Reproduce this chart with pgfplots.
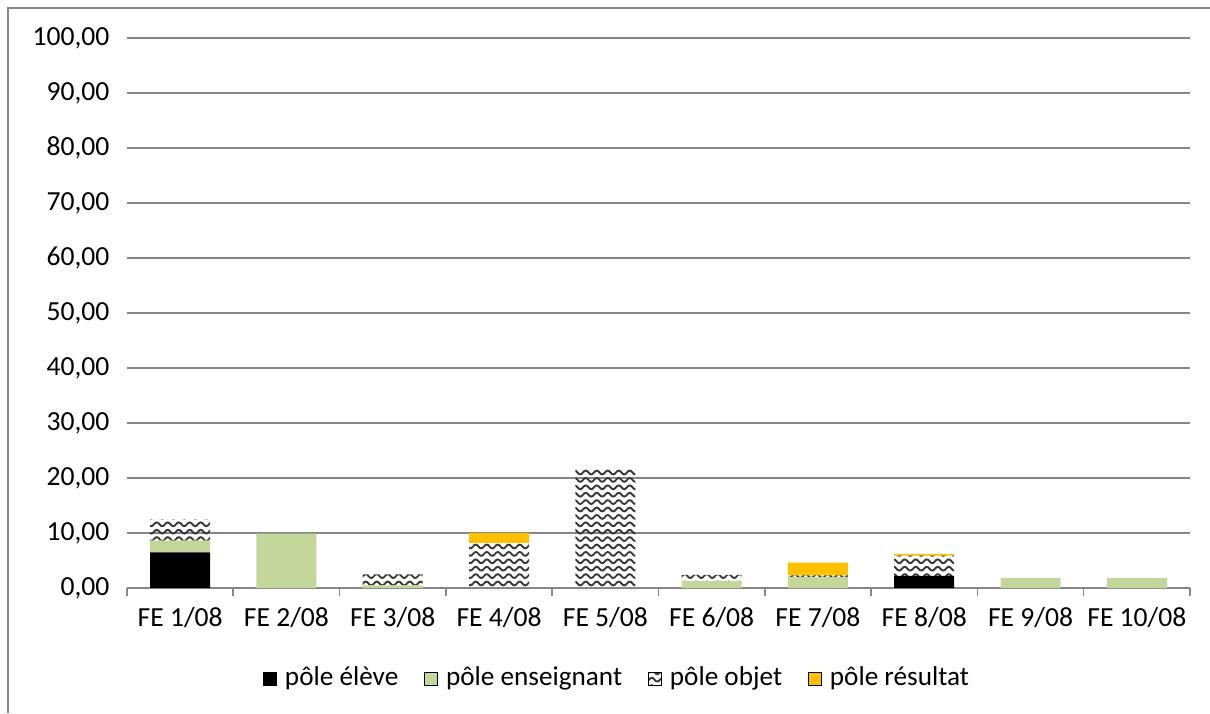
\documentclass[border=0pt]{standalone}
\usepackage{pgfplots}
\pgfplotsset{compat=1.18}
\usepackage{fontspec}
\setmainfont{Carlito}
\usetikzlibrary{patterns}
\definecolor{cgreen}{HTML}{C4D79B}
\definecolor{cyellow}{HTML}{FFC000}
\definecolor{cgrid}{HTML}{868686}
\pgfdeclarepatternformonly{waves}{\pgfqpoint{-0.5pt}{-0.5pt}}{\pgfqpoint{6pt}{4.2pt}}{\pgfqpoint{5.5pt}{3.7pt}}{
  \pgfsetlinewidth{0.95pt}
  \pgfpathmoveto{\pgfqpoint{0pt}{1.85pt}}
  \pgfpathcurveto{\pgfqpoint{0.92pt}{3.1pt}}{\pgfqpoint{1.83pt}{3.1pt}}{\pgfqpoint{2.75pt}{1.85pt}}
  \pgfpathcurveto{\pgfqpoint{3.67pt}{0.6pt}}{\pgfqpoint{4.58pt}{0.6pt}}{\pgfqpoint{5.5pt}{1.85pt}}
  \pgfusepath{stroke}
}
\begin{document}
\begin{tikzpicture}
\useasboundingbox (-63.5pt,-62.5pt) rectangle (541.5pt,294pt);
\begin{axis}[
  at={(0,0)}, anchor=south west,
  scale only axis, width=531.5pt, height=275pt,
  ybar stacked, bar width=30pt,
  xmin=-0.5, xmax=9.5, ymin=0, ymax=100,
  xtick={0,...,9},
  xticklabels={FE 1/08,FE 2/08,FE 3/08,FE 4/08,FE 5/08,FE 6/08,FE 7/08,FE 8/08,FE 9/08,FE 10/08},
  minor xtick={-0.5,0.5,...,9.5},
  major x tick style={draw=none},
  minor x tick style={draw=cgrid, line width=0.8pt},
  minor tick length=4pt,
  xtick pos=bottom, tick align=outside,
  ytick={0,10,...,100},
  ymajorgrids, grid style={cgrid, line width=0.6pt},
  major y tick style={draw=none},
  separate axis lines,
  axis x line*=bottom, axis y line*=left,
  x axis line style={cgrid, line width=0.8pt, -},
  y axis line style={draw=none},
  yticklabel style={/pgf/number format/.cd, fixed, fixed zerofill, precision=2, use comma, assume math mode=true},
  tick label style={font=\fontsize{13.8}{16}\selectfont, text=black},
  yticklabel shift=1pt,
  xticklabel shift=2pt,
  legend style={at={(0.462,-45pt)}, anchor=center, draw=none, legend columns=4,
    font=\fontsize{13.6}{16}\selectfont, inner sep=0pt,
    /tikz/every even column/.append style={column sep=11pt},
    /tikz/every odd column/.append style={column sep=2pt}},
  legend image code/.code={\draw[#1] (0pt,-3.5pt) rectangle (6.5pt,3pt);},
]
\addplot[fill=black, draw=none] coordinates {(0,6.5) (1,0) (2,0) (3,0) (4,0) (5,0) (6,0) (7,2.2) (8,0) (9,0)};
\addplot[fill=cgreen, draw=none] coordinates {(0,2.1) (1,9.9) (2,0.5) (3,0) (4,0) (5,1.3) (6,2.0) (7,0) (8,1.8) (9,1.8)};
\addplot[pattern=waves, pattern color=black!78, draw=none] coordinates {(0,3.9) (1,0) (2,2.0) (3,8.2) (4,21.6) (5,1.1) (6,0.3) (7,3.7) (8,0) (9,0)};
\addplot[fill=cyellow, draw=none] coordinates {(0,0) (1,0) (2,0) (3,1.8) (4,0) (5,0) (6,2.3) (7,0.3) (8,0) (9,0)};
\legend{pôle élève, pôle enseignant, pôle objet, pôle résultat}
\end{axis}
\draw[cgrid, line width=0.7pt] (-59.5pt,-62.5pt) -- (-59.5pt,290pt) -- (541.5pt,290pt);
\end{tikzpicture}
\end{document}
